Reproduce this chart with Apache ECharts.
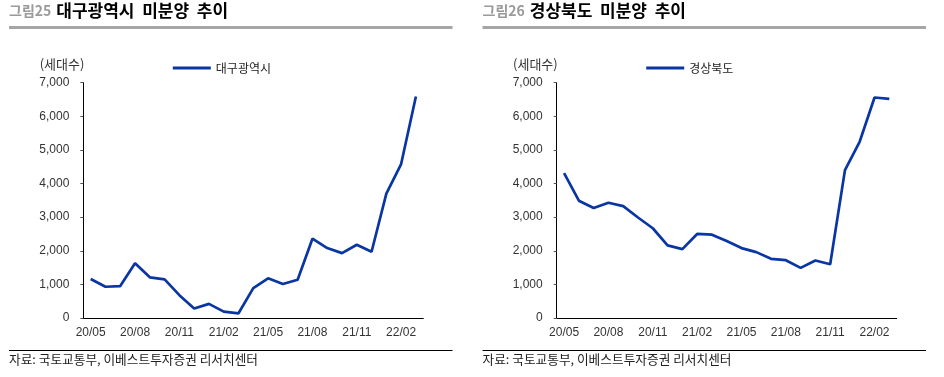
<!DOCTYPE html>
<html>
<head>
<meta charset="utf-8">
<script src="https://cdn.jsdelivr.net/npm/echarts@6/dist/echarts.min.js"></script>
<style>
  html, body { margin: 0; padding: 0; background: #fff; }
  #container { width: 944px; height: 377px; }
</style>
</head>
<body>
<div id="container"></div>
<script>
    // 월 (20/05 ~ 22/03)
    var months = ['20/05','20/06','20/07','20/08','20/09','20/10','20/11','20/12',
                  '21/01','21/02','21/03','21/04','21/05','21/06','21/07','21/08',
                  '21/09','21/10','21/11','21/12','22/01','22/02','22/03'];
    // 대구광역시 미분양 (세대수)
    var daegu = [1160, 930, 950, 1630, 1210, 1150, 680, 280, 420, 190, 140, 890,
                 1180, 1010, 1140, 2360, 2080, 1930, 2180, 1970, 3700, 4580, 6590];
    // 경상북도 미분양 (세대수)
    var gyeongbuk = [4310, 3490, 3270, 3430, 3330, 2990, 2670, 2160, 2050, 2500, 2480, 2290,
                     2080, 1960, 1760, 1720, 1490, 1710, 1600, 4400, 5250, 6560, 6520];
    var yMin = 0, yMax = 7000, yStep = 1000;

    var panels = [
        { num: '그림25', title: '대구광역시 미분양 추이', name: '대구광역시', data: daegu, x: 9, gridLeft: 83.3 },
        { num: '그림26', title: '경상북도 미분양 추이', name: '경상북도', data: gyeongbuk, x: 482.5, gridLeft: 556.7 }
    ];
    var lineColor = '#0a36a3';
    var numFont = '"Liberation Sans", Arial, sans-serif';
    var krFont = '"Noto Sans CJK KR", sans-serif';

    var option = {
        animation: false,
        title: [], legend: [], grid: [], xAxis: [], yAxis: [], series: [], graphic: []
    };

    panels.forEach(function (p, i) {
        option.title.push({
            left: p.x, top: 2, padding: 0,
            text: '{a|' + p.num + '} {b|' + p.title.replace(/ /g, '  ') + '}',
            textStyle: {
                rich: {
                    a: { fontFamily: krFont, fontSize: 14, color: '#9a9a9a' },
                    b: { fontFamily: krFont, fontSize: 17, fontWeight: 'bold', color: '#000' }
                }
            }
        });
        // 제목 아래 회색 선, 하단 검은 선
        option.graphic.push({ type: 'rect', shape: { x: p.x, y: 26, width: 443.5, height: 3 }, style: { fill: '#a6a6a6' } });
        option.graphic.push({ type: 'rect', shape: { x: p.x, y: 350, width: 443.5, height: 1 }, style: { fill: '#000' } });
        option.graphic.push({
            type: 'text', left: p.x, top: 353,
            style: { text: '자료: 국토교통부, 이베스트투자증권 리서치센터', font: '12.7px ' + krFont, fill: '#222' }
        });

        option.legend.push({
            data: [p.name], left: p.gridLeft + 89.5, top: 61,
            icon: 'rect', itemWidth: 38, itemHeight: 2.8, itemGap: 5, padding: 0,
            textStyle: { fontFamily: krFont, fontSize: 12, color: '#222', lineHeight: 14 }
        });
        option.grid.push({ left: p.gridLeft, top: 82.7, width: 340, height: 235.3 });
        option.xAxis.push({
            type: 'category', gridIndex: i, data: months, boundaryGap: true,
            axisLine: { lineStyle: { color: '#000', width: 1 } },
            axisTick: { interval: 2, length: 4, lineStyle: { color: '#555' } },
            axisLabel: { interval: 2, margin: 9, fontFamily: numFont, fontSize: 12, color: '#333' }
        });
        option.yAxis.push({
            type: 'value', gridIndex: i, min: yMin, max: yMax, interval: yStep,
            name: '(세대수)', nameLocation: 'end', nameGap: 12,
            nameTextStyle: { fontFamily: krFont, fontSize: 13, color: '#333', align: 'right', padding: [0, -1, 0, 0] },
            axisLine: { show: true, lineStyle: { color: '#000', width: 1 } },
            axisTick: { show: true, length: 3, lineStyle: { color: '#555' } },
            splitLine: { show: false },
            axisLabel: {
                margin: 14, fontFamily: numFont, fontSize: 12, color: '#333',
                formatter: function (v) { return v.toLocaleString('en-US'); }
            }
        });
        option.series.push({
            name: p.name, type: 'line', xAxisIndex: i, yAxisIndex: i,
            data: p.data, symbol: 'none',
            lineStyle: { color: lineColor, width: 2.7 },
            itemStyle: { color: lineColor }
        });
    });

    var myChart = echarts.init(document.getElementById('container'));
    myChart.setOption(option);
</script>
</body>
</html>
